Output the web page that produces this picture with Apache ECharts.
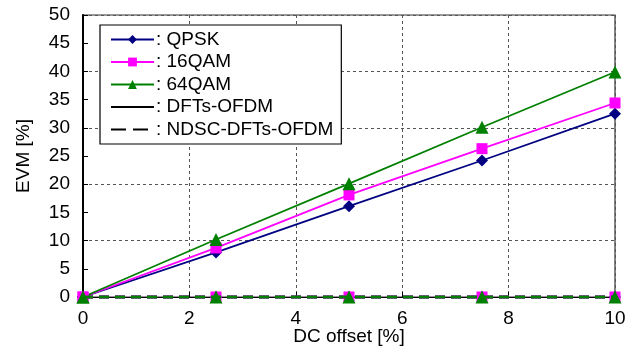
<!DOCTYPE html>
<html>
<head>
<meta charset="utf-8">
<script src="https://cdn.jsdelivr.net/npm/echarts@6/dist/echarts.min.js"></script>
<style>
html,body{margin:0;padding:0;background:#fff;}
#chart{width:634px;height:349px;}
</style>
</head>
<body>
<div id="chart"></div>
<script>
var dcOffset = [0, 2.5, 5, 7.5, 10];
var qpskDFTs = [0, 7.9, 16.1, 24.2, 32.5];
var qam16DFTs = [0, 8.7, 18.1, 26.3, 34.4];
var qam64DFTs = [0, 10.2, 20.1, 30.1, 39.9];
var qpskNDSC = [0, 0, 0, 0, 0];
var qam16NDSC = [0, 0, 0, 0, 0];
var qam64NDSC = [0, 0, 0, 0, 0];
var legendNames = ['QPSK', '16QAM', '64QAM', 'DFTs-OFDM', 'NDSC-DFTs-OFDM'];
var xTitle = 'DC offset [%]';
var yTitle = 'EVM [%]';

function pairs(ys) { return dcOffset.map(function (x, i) { return [x, ys[i]]; }); }

var FONT = '"Liberation Sans", Arial, sans-serif';
var cBlue = '#000080', cMag = '#ff00ff', cGreen = '#008000';

function mkSeries(name, data, color, symbol, size, dashed, z) {
  return {
    name: name, type: 'line', data: pairs(data), clip: false,
    symbol: symbol, symbolSize: size, showSymbol: true,
    itemStyle: { color: color },
    lineStyle: { color: color, width: dashed ? 3 : 1.8, type: dashed ? [10, 6] : 'solid' },
    emphasis: { disabled: true }, animation: false, z: z
  };
}

var chart = echarts.init(document.getElementById('chart'), null, { renderer: 'canvas' });
chart.setOption({
  animation: false,
  textStyle: { fontFamily: FONT },
  grid: { left: 83, right: 19, top: 15, bottom: 52, outerBoundsMode: 'none', containLabel: false, show: true, borderColor: '#333', borderWidth: 1.2, backgroundColor: 'transparent' },
  legend: {
    data: [
      { name: legendNames[0] }, { name: legendNames[1] }, { name: legendNames[2] },
      { name: legendNames[3], itemStyle: { color: 'rgba(0,0,0,0)', borderWidth: 0 } },
      { name: legendNames[4], itemStyle: { color: 'rgba(0,0,0,0)', borderWidth: 0 } }
    ],
    orient: 'vertical', left: 100, top: 25,
    itemWidth: 43, itemHeight: 11, itemGap: 3.5,
    padding: [5, 8, 5, 10],
    backgroundColor: '#fff', borderColor: '#000', borderWidth: 1.2,
    textStyle: { fontSize: 19, color: '#000', fontFamily: FONT, lineHeight: 19, padding: [0, 0, 0, -3] },
    formatter: function (n) { return ': ' + n; },
    selectedMode: false
  },
  xAxis: {
    type: 'value', min: 0, max: 10, interval: 2,
    name: xTitle, nameLocation: 'middle', nameGap: 30, nameMoveOverlap: false,
    nameTextStyle: { fontSize: 19, color: '#000', fontFamily: FONT, verticalAlign: 'top' },
    axisLine: { show: true, onZero: false, lineStyle: { color: '#000', width: 1.2 } },
    axisTick: { show: true, inside: true, length: 5, lineStyle: { color: '#000' } },
    axisLabel: { fontSize: 19, color: '#000', margin: 12, fontFamily: FONT },
    splitLine: { show: true, lineStyle: { color: '#555', width: 1, type: [3, 3] } }
  },
  yAxis: [{
    type: 'value', min: 0, max: 50, interval: 5,
    name: yTitle, nameLocation: 'middle', nameGap: 50, nameMoveOverlap: false,
    nameTextStyle: { fontSize: 19, color: '#000', fontFamily: FONT },
    axisLine: { show: true, lineStyle: { color: '#000', width: 2 } },
    axisTick: { show: true, inside: true, length: 5, lineStyle: { color: '#000' } },
    axisLabel: { fontSize: 19, color: '#000', margin: 13, fontFamily: FONT },
    splitLine: { show: false }
  }, {
    type: 'value', min: 0, max: 50, interval: 10, position: 'left',
    axisLine: { show: false }, axisTick: { show: false }, axisLabel: { show: false },
    splitLine: { show: true, lineStyle: { color: '#555', width: 1, type: [3, 3] } }
  }],
  series: [
    mkSeries(legendNames[0], qpskDFTs, cBlue, 'diamond', 12, false, 3),
    mkSeries(legendNames[1], qam16DFTs, cMag, 'rect', 11, false, 3),
    mkSeries(legendNames[2], qam64DFTs, cGreen, 'triangle', 13, false, 3),
    mkSeries('QPSK NDSC', qpskNDSC, cBlue, 'diamond', 12, true, 4),
    mkSeries('16QAM NDSC', qam16NDSC, cMag, 'rect', 11, true, 5),
    mkSeries('64QAM NDSC', qam64NDSC, cGreen, 'triangle', 13, true, 6),
    { name: legendNames[3], type: 'line', data: [], symbol: 'none', itemStyle: { color: '#000' }, lineStyle: { color: '#000', width: 1.8 } },
    { name: legendNames[4], type: 'line', data: [], symbol: 'none', itemStyle: { color: '#000' }, lineStyle: { color: '#000', width: 3, type: [15, 7] } }
  ]
});
</script>
</body>
</html>
